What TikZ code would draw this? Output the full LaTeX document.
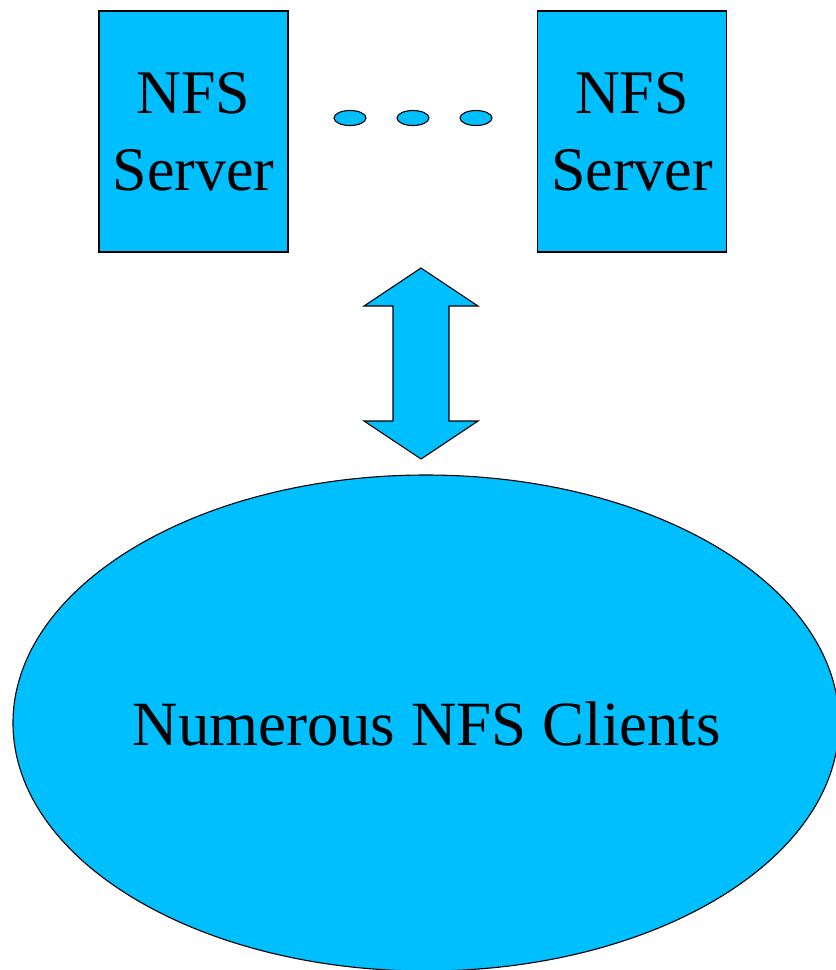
\documentclass[tikz,border=0pt]{standalone}
\usepackage{fontspec}
\setmainfont{Liberation Serif}
\newfontfamily\timesfont{Liberation Serif}
\usepackage{xcolor}
\usepackage{tikz}
\usetikzlibrary{shapes.geometric}
\definecolor{skyfill}{RGB}{0,191,255}
\definecolor{edge}{HTML}{000000}
\tikzset{
  shape base/.style={draw=edge, fill=skyfill, line width=1.1pt, line join=miter},
  serverbox/.style={shape base, rectangle, minimum width=189pt, minimum height=241pt,
    inner sep=0pt, align=center, font=\timesfont\fontsize{62}{77}\selectfont},
  dotmark/.style={shape base, ellipse, minimum width=32pt, minimum height=15pt, inner sep=0pt},
  lab/.style={text=edge, font=\timesfont\fontsize{63}{75}\selectfont},
}

\begin{document}
\begin{tikzpicture}[x=1pt,y=-1pt]
  \useasboundingbox (0,0) rectangle (836,970);

  % servers
  \node[serverbox] (srvA) at (193.5,131.5) {NFS\\Server};
  \node[serverbox] (srvB) at (632,131.5) {NFS\\Server};
  \foreach \i/\x in {1/350,2/413,3/476}
    \node[dotmark] (dot\i) at (\x,118) {};

  % clients
  \draw[shape base] (426,723) ellipse [x radius=413pt, y radius=248pt];
  \node[lab] (clients) at (427,724) {Numerous NFS Clients};

  % double arrow between servers and clients
  \coordinate (up) at (421,268);
  \coordinate (down) at (421,459);
  \draw[shape base] (up) -- (478,306) -- (449,306) -- (449,421) -- (478,421)
    -- (down) -- (364,421) -- (393,421) -- (393,306) -- (364,306) -- cycle;
\end{tikzpicture}
\end{document}
